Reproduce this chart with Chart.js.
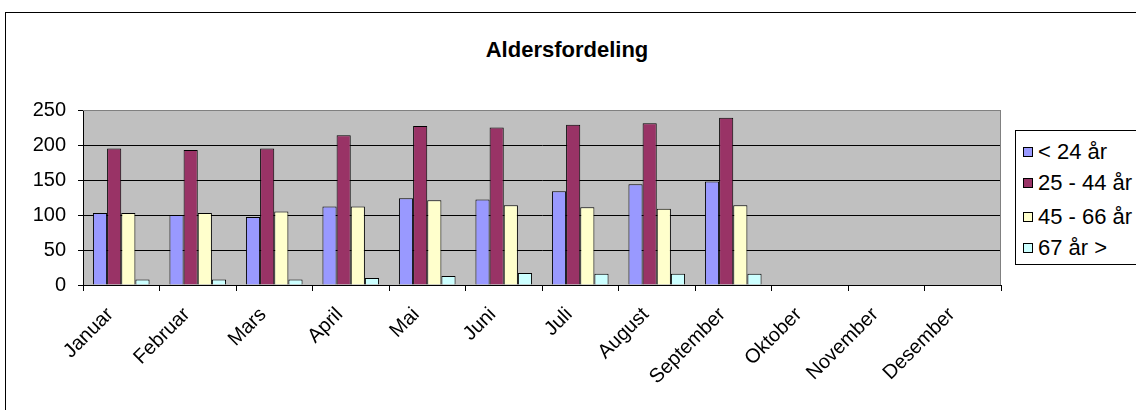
<!DOCTYPE html>
<html>
<head>
<meta charset="utf-8">
<script src="https://cdn.jsdelivr.net/npm/chart.js@4/dist/chart.umd.min.js"></script>
<style>
    body { margin: 0; background: #fff; width: 1136px; height: 410px; overflow: hidden; position: relative; font-family: "Liberation Sans", Arial, sans-serif; }
    .ramme { position: absolute; left: 5px; top: 12px; width: 1140px; height: 410px; border-left: 1px solid #000; border-top: 1px solid #000; }
    #grafico { position: absolute; left: 6px; top: 13px; }
    .tittel { position: absolute; left: 367px; width: 400px; top: 37px; text-align: center; font-weight: bold; font-size: 22px; }
    .legende { position: absolute; left: 1015px; top: 130px; width: 140px; height: 133px; border: 1px solid #000; border-right: none; background: #fff; }
    .legende div { position: absolute; left: 7px; font-size: 22px; line-height: 24px; white-space: nowrap; }
    .legende span { display: inline-block; width: 8px; height: 8px; border: 1px solid #000; margin-right: 5px; vertical-align: 2px; }
</style>
</head>
<body>
<div class="ramme"></div>
<div class="tittel">Aldersfordeling</div>
<canvas id="grafico" width="1130" height="397"></canvas>
<div class="legende"></div>
<script>
// måneder og verdier lest av bildet
const maaneder = ['Januar', 'Februar', 'Mars', 'April', 'Mai', 'Juni', 'Juli', 'August', 'September', 'Oktober', 'November', 'Desember'];
const under24 = [103, 100, 97, 112, 124, 122, 134, 144, 148, null, null, null];
const fra25til44 = [195, 193, 195, 214, 227, 225, 229, 231, 239, null, null, null];
const fra45til66 = [103, 103, 105, 112, 121, 114, 111, 109, 114, null, null, null];
const over67 = [8, 8, 8, 10, 13, 17, 16, 16, 16, null, null, null];
const yTicks = [0, 50, 100, 150, 200, 250];

const serier = [
    { navn: '< 24 år', data: under24, farge: '#9999FF' },
    { navn: '25 - 44 år', data: fra25til44, farge: '#993366' },
    { navn: '45 - 66 år', data: fra45til66, farge: '#FFFFCC' },
    { navn: '67 år >', data: over67, farge: '#CCFFFF' }
];

// grå bakgrunn i plottområdet
const plotBakgrunn = {
    id: 'plotBakgrunn',
    beforeDraw(chart) {
        const { ctx, chartArea: a } = chart;
        ctx.save();
        ctx.fillStyle = '#C0C0C0';
        ctx.fillRect(a.left, a.top, a.right - a.left, a.bottom - a.top);
        ctx.restore();
    },
    afterDraw(chart) {
        const { ctx, chartArea: a } = chart;
        ctx.save();
        ctx.strokeStyle = '#808080';
        ctx.lineWidth = 1;
        ctx.beginPath();
        ctx.moveTo(a.left, a.top + 0.5);
        ctx.lineTo(a.right - 0.5, a.top + 0.5);
        ctx.lineTo(a.right - 0.5, a.bottom);
        ctx.stroke();
        ctx.restore();
    }
};

const ctx = document.getElementById('grafico').getContext('2d');
const grafico = new Chart(ctx, {
    type: 'bar',
    data: {
        labels: maaneder,
        datasets: serier.map(s => ({
            label: s.navn,
            data: s.data,
            backgroundColor: s.farge,
            borderColor: '#000',
            borderWidth: 1,
            borderSkipped: 'bottom',
            categoryPercentage: 0.74,
            barPercentage: 1
        }))
    },
    options: {
        responsive: false,
        animation: false,
        layout: { padding: { top: 97, right: 135, bottom: 0, left: 0 } },
        plugins: {
            legend: { display: false },
            title: { display: false },
            tooltip: { enabled: false }
        },
        scales: {
            x: {
                grid: { offset: true, drawOnChartArea: false, drawTicks: true, tickLength: 6, color: '#000' },
                border: { color: '#000' },
                ticks: {
                    color: '#000',
                    font: { family: 'Liberation Sans', size: 20 },
                    minRotation: 45,
                    maxRotation: 45,
                    autoSkip: false,
                    padding: 12,
                    labelOffset: -11
                },
                afterFit(scale) { scale.height = 125; }
            },
            y: {
                min: 0,
                max: 250,
                afterBuildTicks(scale) { scale.ticks = yTicks.map(v => ({ value: v })); },
                grid: {
                    color: c => (c.tick && c.tick.value === 250 ? '#808080' : '#000'),
                    tickColor: '#000',
                    tickLength: 5
                },
                border: { color: '#000' },
                ticks: {
                    color: '#000',
                    font: { family: 'Liberation Sans', size: 20 },
                    padding: 12
                },
                afterFit(scale) { scale.width = 77; }
            }
        }
    },
    plugins: [plotBakgrunn]
});

// legenden bygges fra seriene
const legende = document.querySelector('.legende');
const radY = [9, 40, 74, 105];
serier.forEach((s, i) => {
    const rad = document.createElement('div');
    rad.style.top = radY[i] + 'px';
    rad.innerHTML = `<span style="background:${s.farge}"></span>${s.navn}`;
    legende.appendChild(rad);
});
</script>
</body>
</html>
